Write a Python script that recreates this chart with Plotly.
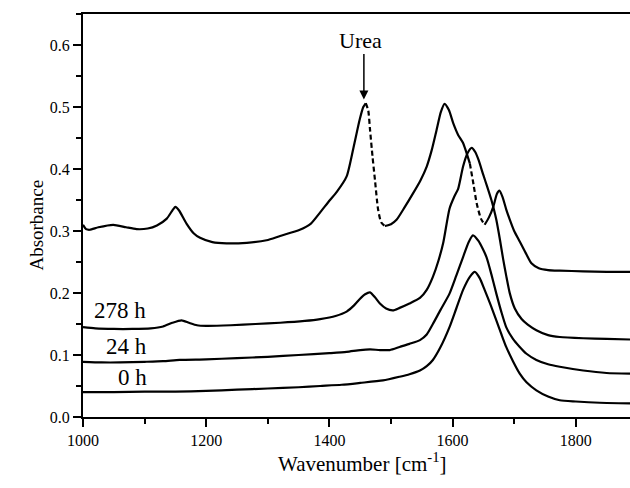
import plotly.graph_objects as go

# ---------------- data ----------------
wn_top = [1000, 1005, 1011, 1025, 1049, 1070, 1087, 1105, 1120, 1136, 1145, 1150, 1156, 1168, 1180, 1190,
          1210, 1233, 1266, 1298, 1320, 1352, 1370, 1385, 1401, 1412, 1428, 1439, 1449, 1455, 1459, 1463,
          1466, 1470, 1474, 1479, 1484, 1490, 1500, 1509, 1522, 1536, 1548, 1558, 1566, 1574, 1581, 1587,
          1594, 1601, 1609, 1617, 1628, 1634, 1639, 1646, 1652, 1659, 1666, 1672, 1676, 1681, 1687, 1693,
          1700, 1709, 1720, 1728, 1740, 1755, 1774, 1812, 1850, 1888]
abs_top = [0.310, 0.303, 0.302, 0.306, 0.310, 0.306, 0.303, 0.304, 0.309, 0.320, 0.333, 0.339, 0.333, 0.312,
           0.296, 0.289, 0.282, 0.280, 0.281, 0.285, 0.292, 0.302, 0.312, 0.330, 0.350, 0.363, 0.388, 0.434,
           0.479, 0.500, 0.506, 0.495, 0.463, 0.420, 0.382, 0.335, 0.314, 0.308, 0.311, 0.318, 0.338, 0.361,
           0.382, 0.404, 0.430, 0.463, 0.492, 0.505, 0.495, 0.474, 0.455, 0.442, 0.409, 0.375, 0.345, 0.320,
           0.310, 0.322, 0.339, 0.360, 0.365, 0.355, 0.335, 0.318, 0.300, 0.283, 0.262, 0.248, 0.240, 0.237,
           0.236, 0.235, 0.234, 0.234]

wn_278 = [1000, 1020, 1050, 1080, 1110, 1130, 1145, 1160, 1172, 1185, 1200, 1240, 1280, 1320, 1360, 1385,
          1410, 1428, 1440, 1449, 1458, 1466, 1474, 1482, 1492, 1503, 1514, 1530, 1547, 1558, 1568, 1577,
          1585, 1595, 1603, 1609, 1617, 1624, 1631, 1637, 1642, 1650, 1656, 1663, 1667, 1671, 1677, 1682,
          1687, 1693, 1701, 1712, 1722, 1736, 1755, 1774, 1812, 1850, 1888]
abs_278 = [0.145, 0.143, 0.142, 0.142, 0.143, 0.146, 0.152, 0.156, 0.152, 0.148, 0.147, 0.148, 0.150, 0.152,
           0.155, 0.158, 0.163, 0.170, 0.180, 0.190, 0.198, 0.201, 0.193, 0.183, 0.175, 0.172, 0.176, 0.183,
           0.192, 0.205, 0.226, 0.252, 0.282, 0.336, 0.356, 0.368, 0.404, 0.425, 0.434, 0.427, 0.415, 0.390,
           0.372, 0.350, 0.335, 0.318, 0.285, 0.255, 0.228, 0.199, 0.175, 0.158, 0.149, 0.140, 0.132, 0.129,
           0.127, 0.126, 0.125]

wn_24 = [1000, 1030, 1060, 1100, 1130, 1157, 1200, 1250, 1300, 1350, 1400, 1428, 1450, 1466, 1482, 1498,
         1514, 1530, 1547, 1558, 1568, 1580, 1595, 1606, 1617, 1626, 1633, 1642, 1655, 1663, 1671, 1679,
         1687, 1698, 1709, 1720, 1736, 1755, 1774, 1812, 1850, 1888]
abs_24 = [0.089, 0.088, 0.088, 0.089, 0.090, 0.092, 0.093, 0.095, 0.097, 0.100, 0.103, 0.105, 0.108, 0.109,
          0.108, 0.108, 0.113, 0.118, 0.124, 0.133, 0.150, 0.172, 0.199, 0.228, 0.258, 0.282, 0.293, 0.284,
          0.258, 0.230, 0.199, 0.170, 0.145, 0.126, 0.113, 0.102, 0.092, 0.085, 0.081, 0.075, 0.071, 0.070]

wn_0 = [1000, 1050, 1100, 1150, 1200, 1250, 1300, 1350, 1385, 1420, 1450, 1487, 1514, 1530, 1547, 1558,
        1568, 1580, 1595, 1606, 1617, 1628, 1636, 1644, 1652, 1662, 1671, 1679, 1687, 1698, 1709, 1720,
        1736, 1755, 1774, 1800, 1839, 1888]
abs_0 = [0.040, 0.040, 0.041, 0.041, 0.042, 0.044, 0.046, 0.048, 0.050, 0.052, 0.055, 0.059, 0.065, 0.069,
         0.075, 0.082, 0.092, 0.112, 0.145, 0.175, 0.205, 0.226, 0.234, 0.224, 0.205, 0.180, 0.156, 0.134,
         0.113, 0.090, 0.070, 0.056, 0.043, 0.033, 0.027, 0.025, 0.023, 0.022]

curve_labels = ["278 h", "24 h", "0 h"]
label_wn = [1060, 1070, 1081]
label_abs = [0.172, 0.114, 0.064]

urea_label = "Urea"
urea_wn = 1456
urea_text_abs = 0.608
urea_arrow_from = 0.588
urea_arrow_to = 0.512

x_ticks = [1000, 1200, 1400, 1600, 1800]
y_ticks = [0.0, 0.1, 0.2, 0.3, 0.4, 0.5, 0.6]

# dashed stretches of the top spectrum (steep parts)
dash_ranges = [(1459, 1490), (1628, 1652)]

FONT = "Liberation Serif"
LW = 2.2

fig = go.Figure()


def add_line(x, y, dash="solid"):
    fig.add_trace(go.Scatter(x=x, y=y, mode="lines",
                             line=dict(color="black", width=LW, dash=dash, shape="spline", smoothing=0.6),
                             showlegend=False, hoverinfo="skip"))


# top spectrum split into solid and dashed parts
prev = wn_top[0]
cuts = []
for a, b in dash_ranges:
    cuts.append((prev, a, "solid"))
    cuts.append((a, b, "dash"))
    prev = b
cuts.append((prev, wn_top[-1], "solid"))
for a, b, d in cuts:
    xs = [w for w in wn_top if a <= w <= b]
    ys = [v for w, v in zip(wn_top, abs_top) if a <= w <= b]
    add_line(xs, ys, "solid" if d == "solid" else "5px,3px")

add_line(wn_278, abs_278)
add_line(wn_24, abs_24)
add_line(wn_0, abs_0)

annotations = []
for t, xv, yv in zip(curve_labels, label_wn, label_abs):
    annotations.append(dict(x=xv, y=yv, xref="x", yref="y", text=t, showarrow=False,
                            font=dict(family=FONT, size=23, color="black")))
annotations.append(dict(x=urea_wn - 5, y=urea_text_abs, xref="x", yref="y", text=urea_label, showarrow=False,
                        font=dict(family=FONT, size=22, color="black")))
annotations.append(dict(x=urea_wn, y=urea_arrow_to, ax=urea_wn, ay=urea_arrow_from, xref="x", yref="y",
                        axref="x", ayref="y", text="", showarrow=True, arrowhead=2, arrowsize=1.2,
                        arrowwidth=1.5, arrowcolor="black"))
# axis titles
annotations.append(dict(x=-0.108, y=0.476, xref="paper", yref="paper", text="Absorbance", textangle=-90,
                        showarrow=False, font=dict(family=FONT, size=19, color="black")))
annotations.append(dict(x=0.511, y=-0.151, xref="paper", yref="paper", text="Wavenumber [cm<sup>-1</sup>]",
                        showarrow=False, font=dict(family=FONT, size=21, color="black")))

fig.update_layout(
    width=630, height=488,
    margin=dict(l=83, r=0, t=14, b=71),
    paper_bgcolor="white", plot_bgcolor="white",
    annotations=annotations,
    xaxis=dict(range=[1000, 1888], tickvals=x_ticks, ticktext=[str(v) for v in x_ticks],
               ticks="outside", ticklen=8, tickwidth=2, tickcolor="black",
               minor=dict(dtick=100, tick0=1000, ticks="outside", ticklen=5, tickwidth=2, tickcolor="black"),
               showline=True, linewidth=2, linecolor="black", mirror=True,
               showgrid=False, zeroline=False,
               tickfont=dict(family=FONT, size=16, color="black")),
    yaxis=dict(range=[0, 0.65], tickvals=y_ticks, ticktext=["%.1f" % v for v in y_ticks],
               ticks="outside", ticklen=8, tickwidth=2, tickcolor="black",
               minor=dict(dtick=0.05, tick0=0, ticks="outside", ticklen=5, tickwidth=2, tickcolor="black"),
               showline=True, linewidth=2, linecolor="black",
               showgrid=False, zeroline=False,
               tickfont=dict(family=FONT, size=16, color="black")),
)

fig.write_html("out.html")
